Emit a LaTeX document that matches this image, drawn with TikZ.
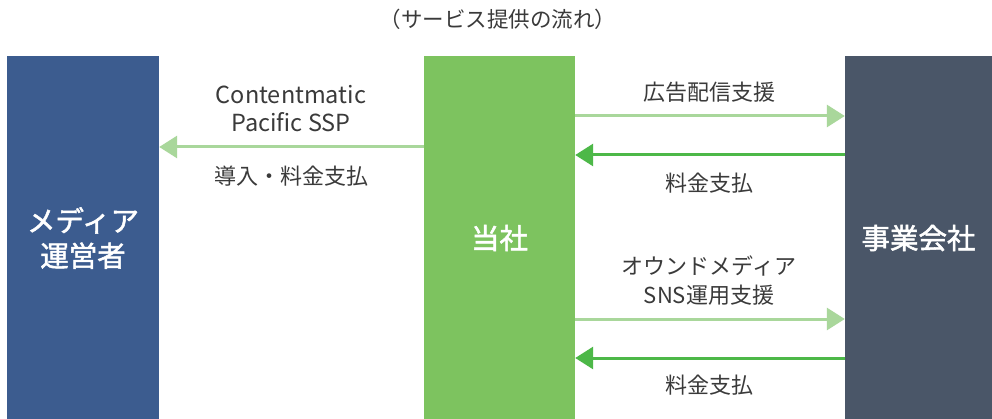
\documentclass[tikz,border=0pt]{standalone}
\usepackage{fontspec}
\setmainfont{Noto Sans CJK JP}
\newfontfamily\medfont{Noto Sans CJK JP}[FakeBold=1.8]
\usetikzlibrary{arrows.meta}
\definecolor{mediablue}{HTML}{3C5C8F}
\definecolor{ourgreen}{HTML}{7DC35F}
\definecolor{clientgray}{HTML}{4A5668}
\definecolor{lightarr}{HTML}{A9D79B}
\definecolor{darkarr}{HTML}{4DB848}
\definecolor{txt}{HTML}{3A3A3A}
\tikzset{
  party/.style={rectangle, inner sep=0pt, minimum height=364pt, text=white, font=\fontsize{28.5}{35}\selectfont\medfont, align=center},
  lbl/.style={text=txt, font=\fontsize{22}{29}\selectfont, align=center, inner sep=0pt},
  lightflow/.style={draw=lightarr, line width=3pt, -{Triangle[length=18pt,width=22pt]}},
  darkflow/.style={draw=darkarr, line width=3pt, -{Triangle[length=18pt,width=22pt]}}
}
\begin{document}
\begin{tikzpicture}[x=1pt,y=-1pt]
\useasboundingbox (0,0) rectangle (992,419);
\fill[white] (0,0) rectangle (992,419);
\node[lbl, font=\fontsize{21.5}{26}\selectfont] (title) at (498,19) {（サービス提供の流れ）};
\node[party, fill=mediablue, minimum width=152pt] (media) at (83,238) {メディア\\運営者};
\node[party, fill=ourgreen, minimum width=151pt] (us) at (499.5,238) {当社};
\node[party, fill=clientgray, minimum width=147pt] (client) at (918.5,238) {事業会社};
\draw[lightflow] (us.west |- 0,147) -- (media.east |- 0,147);
\draw[lightflow] (us.east |- 0,116) -- (client.west |- 0,116);
\draw[darkflow] (client.west |- 0,155) -- (us.east |- 0,155);
\draw[lightflow] (us.east |- 0,319) -- (client.west |- 0,319);
\draw[darkflow] (client.west |- 0,358) -- (us.east |- 0,358);
\node[lbl, font=\fontsize{23.5}{28}\selectfont] (l1) at (291,109) {Contentmatic\\Pacific SSP};
\node[lbl] (l2) at (291,176) {導入・料金支払};
\node[lbl] (r1) at (709,92) {広告配信支援};
\node[lbl] (r2) at (709,183) {料金支払};
\node[lbl] (r3) at (709,281) {オウンドメディア\\SNS運用支援};
\node[lbl] (r4) at (709,385) {料金支払};
\end{tikzpicture}
\end{document}
